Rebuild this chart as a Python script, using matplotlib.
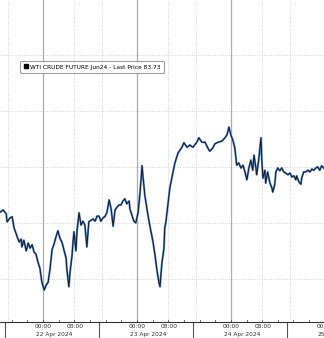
import datetime as dt
import matplotlib
matplotlib.use('Agg')
import matplotlib.pyplot as plt
import matplotlib.dates as mdates
import matplotlib.transforms as mtransforms
from matplotlib.lines import Line2D

# ── Data: hours from 22 Apr 2024 00:00, price in USD ──
hours_day1 = [-11.0, -10.2, -9.4, -9.2, -8.4, -7.9, -7.4, -6.6, -6.1, -5.6,
              -5.4, -4.9, -4.3, -3.8, -3.3, -2.8, -2.3, -1.8, -1.3, -0.8,
              -0.3, 0.3, 0.8, 1.3, 1.8, 2.3, 2.8, 3.3, 3.8, 4.3,
              4.9, 5.4, 5.9, 6.1, 6.6, 6.9, 7.4, 7.7, 7.9, 8.4,
              8.7, 9.2, 9.7, 10.2, 10.7, 11.2, 11.7, 12.3, 12.8, 13.3,
              13.8, 14.3, 14.8, 15.3, 15.8, 16.3, 16.9, 17.4, 17.9, 18.4,
              18.9, 19.4, 19.9, 20.4, 20.9, 21.4, 22.0, 22.2, 22.7, 23.2, 23.7]
price_day1 = [82.94, 82.98, 82.91, 82.77, 82.84, 82.86, 82.66, 82.50, 82.41, 82.46,
              82.32, 82.44, 82.25, 82.39, 82.30, 82.36, 82.23, 82.19, 82.05, 81.94,
              81.69, 81.55, 81.64, 81.69, 81.94, 82.27, 82.37, 82.50, 82.61, 82.48,
              82.39, 82.25, 82.12, 81.91, 81.61, 81.87, 82.16, 82.44, 82.59, 82.25,
              82.62, 82.93, 82.71, 82.78, 82.71, 82.32, 82.77, 82.80, 82.82, 82.78,
              82.87, 82.87, 82.78, 82.84, 82.86, 82.93, 83.16, 83.00, 82.69, 82.98,
              83.03, 83.07, 83.07, 83.14, 83.18, 83.09, 83.14, 83.00, 82.89, 82.78, 82.75]

hours_day2 = [24.3, 24.8, 25.3, 25.5, 26.0, 26.6, 27.1, 27.6, 28.1, 28.6,
              29.1, 29.6, 29.9, 30.1, 30.4, 30.6, 30.9, 31.1, 31.4, 31.9,
              32.4, 32.9, 33.7, 34.5, 35.5, 36.0, 36.8, 37.5, 38.3, 39.3,
              39.8, 40.6, 41.4, 42.1, 42.6, 43.4, 43.9, 44.7, 45.7, 46.5,
              47.0]
price_day2 = [82.94, 83.30, 83.77, 83.61, 83.25, 82.98, 82.77, 82.59, 82.41, 82.18,
              81.91, 81.69, 81.61, 81.80, 82.05, 82.14, 82.30, 82.66, 82.77, 83.07,
              83.37, 83.55, 83.82, 84.00, 84.10, 84.18, 84.10, 84.14, 84.10, 84.19,
              84.27, 84.19, 84.19, 84.09, 84.03, 84.09, 84.16, 84.19, 84.21, 84.27,
              84.32]

hours_day3 = [47.5, 48.0, 48.5, 49.0, 49.3, 49.5, 50.0, 50.6, 51.1, 51.6,
              52.1, 52.6, 53.1, 53.6, 53.9, 54.4, 54.6, 55.1, 55.7, 55.9,
              56.2, 56.7, 56.9, 57.4, 58.0, 58.5, 58.7, 59.2, 59.5, 60.0,
              60.5, 61.0, 61.5, 62.0, 62.6, 63.1, 63.6, 64.1, 64.6, 64.8,
              65.4, 65.9, 66.1, 66.6, 67.1, 67.7, 68.2, 68.7, 69.2, 69.7,
              70.2, 70.7, 71.2, 71.7]
price_day3 = [84.46, 84.32, 84.23, 84.09, 83.91, 83.78, 83.82, 83.73, 83.78, 83.66,
              83.52, 83.73, 83.87, 83.69, 83.96, 83.73, 83.61, 83.87, 84.27, 83.87,
              83.55, 83.69, 83.46, 83.66, 83.46, 83.37, 83.30, 83.43, 83.66, 83.73,
              83.68, 83.73, 83.66, 83.64, 83.61, 83.64, 83.57, 83.59, 83.52, 83.59,
              83.48, 83.44, 83.55, 83.66, 83.66, 83.69, 83.66, 83.71, 83.69, 83.73,
              83.75, 83.69, 83.77, 83.73]

hours = hours_day1 + hours_day2 + hours_day3
price = price_day1 + price_day2 + price_day3

start = dt.datetime(2024, 4, 22)
days = [dt.datetime(2024, 4, d) for d in (22, 23, 24, 25)]
day_labels = ['22 Apr 2024', '23 Apr 2024', '24 Apr 2024', '25']
price_grid = [81.75, 82.75, 83.75, 84.75, 85.75]
legend_label = 'WTI CRUDE FUTURE Jun24 - Last Price 83.73'

times = [start + dt.timedelta(hours=h) for h in hours]
tnum = mdates.date2num(times)

# ── Plot ──
fig = plt.figure(figsize=(3.24, 3.38), dpi=100)
ax = fig.add_axes([0, 16 / 338, 1, 322 / 338])
FS = 4.2

ax.set_xlim(mdates.date2num(start - dt.timedelta(hours=11.0)),
            mdates.date2num(start + dt.timedelta(hours=71.8)))
ax.set_ylim(80.98, 86.73)

# grid
dot = (0, (0.8, 1.6))
for p in price_grid:
    ax.axhline(p, color='#cccccc', ls=dot, lw=0.7, zorder=0)
for d in [dt.datetime(2024, 4, 21)] + days[:3]:
    for hh in (8, 15):
        ax.axvline(mdates.date2num(d + dt.timedelta(hours=hh)), color='#cccccc',
                   ls=dot, lw=0.7, zorder=0)
for d in days[:3]:
    ax.axvline(mdates.date2num(d), color='#acacac', lw=0.9, zorder=0)

ax.plot(tnum, price, color='#5b8ccc', lw=1.5, zorder=2)
ax.plot(tnum, price, color='#101828', lw=0.7, zorder=3)

# axes styling
for s in ('left', 'right', 'top'):
    ax.spines[s].set_visible(False)
ax.spines['bottom'].set_color('#333333')
ax.spines['bottom'].set_linewidth(0.8)
ax.set_yticks([])
ax.set_xticks([])

trans = mtransforms.blended_transform_factory(ax.transData, ax.transAxes)
for d, lab in zip(days, day_labels):
    x0 = mdates.date2num(d)
    ax.text(x0, -0.006, '00:00', transform=trans, ha='center', va='top',
            fontsize=FS, color='#333333', clip_on=False)
    ax.text(x0 - 1.8 / 24, -0.030, lab, transform=trans, ha='left', va='top',
            fontsize=FS, color='#333333', clip_on=False)
    if d != days[-1]:
        ax.text(mdates.date2num(d + dt.timedelta(hours=8.3)), -0.006, '08:00',
                transform=trans, ha='center', va='top', fontsize=FS,
                color='#333333', clip_on=False)
# day separators under the axis
for d in [dt.datetime(2024, 4, 21)] + days[:3]:
    xs = mdates.date2num(d + dt.timedelta(hours=14.3))
    ax.plot([xs, xs], [0, -0.05], transform=trans, color='#555555', lw=0.8,
            clip_on=False)
# small ticks every 4h
for h in range(-8, 72, 4):
    xs = mdates.date2num(start + dt.timedelta(hours=h))
    ax.plot([xs, xs], [0, 0.006], transform=trans, color='#555555', lw=0.6)

handle = Line2D([], [], marker='s', color='black', ls='', ms=3)
leg = ax.legend([handle], [legend_label], loc='center', bbox_to_anchor=(0.284, 0.792),
                fontsize=FS, frameon=True, fancybox=True, handlelength=0.6,
                handletextpad=0.4, borderpad=0.6, edgecolor='#888888')
leg.get_frame().set_linewidth(0.8)

fig.savefig('out.png', dpi=100)
